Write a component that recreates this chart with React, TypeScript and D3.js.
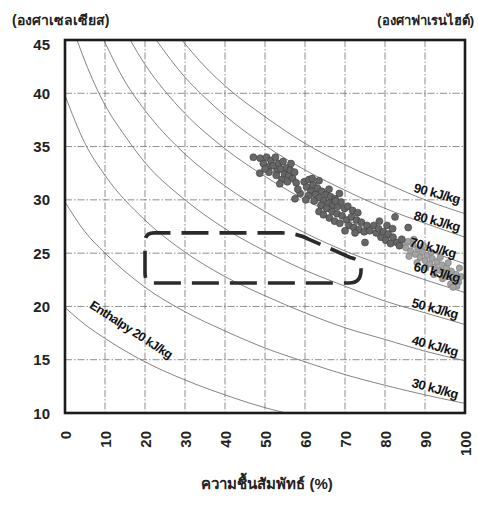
import React from 'react';
import * as d3 from 'd3';

const W = 478;
const H = 505;

// axis ticks
const rhTicks = [0, 10, 20, 30, 40, 50, 60, 70, 80, 90, 100];
const tTicks = [10, 15, 20, 25, 30, 35, 40, 45];

// enthalpy curves (RH %, temperature °C)
const h20RH = [0, 5, 10, 20, 30, 40, 50, 60];
const h20T = [19.9, 18.3, 17.0, 14.8, 13.1, 11.7, 10.5, 9.6];
const h30RH = [0, 5, 10, 20, 30, 40, 50, 60, 70, 80, 90, 100];
const h30T = [29.8, 27.0, 25.0, 21.8, 19.5, 17.7, 16.1, 14.8, 13.6, 12.6, 11.7, 10.9];
const h40RH = [0, 5, 10, 20, 30, 40, 50, 60, 70, 80, 90, 100];
const h40T = [39.8, 35.3, 32.3, 28.1, 25.1, 22.8, 21.0, 19.4, 18.0, 16.9, 15.8, 14.9];
const h50RH = [3, 5, 10, 15, 20, 30, 40, 50, 60, 70, 80, 90, 100];
const h50T = [45, 43.0, 38.9, 36.0, 33.5, 30.0, 27.3, 25.2, 23.4, 21.9, 20.5, 19.4, 18.3];
const h60RH = [9.7, 15, 20, 30, 40, 50, 60, 70, 80, 90, 100];
const h60T = [45, 41.1, 38.4, 34.3, 31.3, 28.9, 26.9, 25.2, 23.8, 22.5, 21.3];
const h70RH = [16.3, 20, 25, 30, 40, 50, 60, 70, 80, 90, 100];
const h70T = [45, 42.7, 40.2, 38.1, 34.8, 32.2, 30.0, 28.2, 26.6, 25.3, 24.0];
const h80RH = [22.8, 30, 35, 40, 50, 60, 70, 80, 90, 100];
const h80T = [45, 41.5, 39.6, 37.9, 35.1, 32.8, 30.9, 29.2, 27.8, 26.5];
const h90RH = [29.2, 35, 40, 50, 60, 70, 80, 90, 100];
const h90T = [45, 42.5, 40.7, 37.8, 35.3, 33.3, 31.6, 30.0, 28.7];

// curve labels
const curveLabels = ['90 kJ/kg', '80 kJ/kg', '70 kJ/kg', '60 kJ/kg', '50 kJ/kg', '40 kJ/kg', '30 kJ/kg'];
const labelRH = [93, 93, 92, 93, 92.5, 92.5, 92.5];
const labelT = [30.6, 28.0, 25.5, 23.2, 19.8, 16.3, 12.3];

// comfort zone outline (RH %, °C)
const zoneRH = [20, 54, 58, 61, 71.3, 74, 71, 21.5, 20];
const zoneT = [26.9, 26.9, 26.9, 26.3, 24.6, 23.4, 22.2, 22.2, 23.2];

// measured points (dark)
const darkRH = [
  47.1, 48.7, 48.8, 49.6, 50.4, 50.9, 51.5, 52.1, 52.6, 53.0, 53.4, 54.0, 54.5, 54.9, 55.4, 55.9, 56.3, 56.9, 57.4,
  51.0, 52.8, 54.2, 55.6, 57.8, 53.7, 50.0, 56.5, 57.5, 58.8, 58.2,
  59.8, 60.4, 61.0, 61.5, 62.0, 62.6, 63.1, 63.6, 64.2, 64.7, 65.3, 65.9, 66.4, 67.0, 67.5, 68.2, 60.9, 62.3, 64.0,
  66.0, 63.5, 61.8, 68.6, 60.2,
  63.5, 64.6, 65.4, 66.1, 66.8, 67.4, 68.0, 68.7, 69.3, 69.9, 70.4, 71.0, 71.6, 72.2, 72.9, 73.5, 74.1, 74.8, 75.5,
  76.2, 70.7, 71.9, 73.2, 69.0, 67.6, 75.0, 72.5, 70.0,
  77.2, 77.8, 78.4, 79.0, 79.6, 80.2, 80.8, 81.4, 82.0, 82.5, 83.0, 83.6, 84.2, 85.8, 78.6, 80.5, 81.9,
];
const darkT = [
  34.0, 32.5, 33.9, 33.4, 34.0, 33.1, 33.7, 33.2, 34.0, 32.7, 33.4, 32.9, 33.6, 32.4, 33.0, 32.3, 32.8, 32.0, 32.6,
  32.6, 32.3, 31.9, 31.7, 31.6, 31.5, 32.9, 33.4, 30.1, 30.6, 31.0,
  31.7, 31.2, 31.9, 30.8, 31.4, 30.5, 31.1, 30.2, 30.8, 29.9, 30.5, 29.7, 30.3, 29.5, 30.1, 29.4, 30.4, 29.9, 29.5,
  31.0, 31.8, 32.0, 30.6, 30.0,
  28.9, 28.6, 29.2, 28.3, 28.9, 28.0, 28.7, 27.8, 28.5, 29.2, 28.1, 27.6, 28.4, 27.4, 28.1, 27.2, 27.9, 27.0, 27.6,
  27.1, 29.4, 29.0, 28.8, 29.8, 29.9, 26.0, 26.9, 27.1,
  27.6, 26.9, 27.3, 26.5, 27.0, 26.2, 26.8, 25.9, 26.5, 28.4, 26.0, 25.7, 26.3, 27.4, 28.0, 27.6, 27.3,
];

// measured points (light cluster)
const lightRH = [
  84.5, 85.2, 85.8, 86.4, 87.0, 87.6, 88.2, 88.8, 89.4, 90.0, 90.6, 91.2, 91.8, 92.4, 93.0, 93.6, 94.2, 94.8, 95.4,
  96.0, 96.6, 97.2, 97.8, 98.4, 99.0, 86.0, 88.0, 90.2, 92.2, 94.4, 96.4, 98.0, 87.2, 89.6, 91.6, 93.8, 95.8, 98.6, 97.0,
];
const lightT = [
  26.0, 25.5, 26.1, 25.2, 25.8, 24.9, 25.4, 24.6, 25.1, 24.3, 24.8, 24.0, 24.5, 23.7, 24.2, 23.4, 23.9, 23.1, 23.6,
  22.8, 23.3, 22.5, 23.0, 22.3, 22.8, 24.7, 24.1, 23.6, 23.0, 22.6, 22.1, 21.9, 26.3, 25.7, 25.1, 24.6, 24.1, 23.6, 21.8,
];

const yTitle = '(องศาเซลเซียส)';
const yTitleRight = '(องศาฟาเรนไฮต์)';
const xTitle = 'ความชื้นสัมพัทธ์ (%)';
const enthalpyLabel = 'Enthalpy 20 kJ/kg';

const zip = (a: number[], b: number[]) => a.map((v, i) => [v, b[i]] as [number, number]);

export default function App() {
  const x = d3.scaleLinear().domain([0, 100]).range([65, 465]);
  const y = d3.scaleLinear().domain([10, 45]).range([413, 40]);
  const line = d3
    .line<[number, number]>()
    .x((d) => x(d[0]))
    .y((d) => y(d[1]))
    .curve(d3.curveMonotoneX);

  const curves = [
    zip(h20RH, h20T),
    zip(h30RH, h30T),
    zip(h40RH, h40T),
    zip(h50RH, h50T),
    zip(h60RH, h60T),
    zip(h70RH, h70T),
    zip(h80RH, h80T),
    zip(h90RH, h90T),
  ];

  const zp = zip(zoneRH, zoneT).map(([r, t]) => [x(r), y(t)]);
  const zonePath = d3.path();
  zonePath.moveTo(zp[0][0], zp[0][1] + 9);
  zonePath.quadraticCurveTo(zp[0][0], zp[0][1], zp[0][0] + 9, zp[0][1]);
  zonePath.lineTo(zp[1][0], zp[1][1]);
  zonePath.quadraticCurveTo(zp[2][0], zp[2][1], zp[3][0], zp[3][1]);
  zonePath.lineTo(zp[4][0], zp[4][1]);
  zonePath.quadraticCurveTo(zp[5][0], zp[4][1] + 2, zp[5][0], zp[5][1]);
  zonePath.quadraticCurveTo(zp[5][0], zp[6][1], zp[6][0], zp[6][1]);
  zonePath.lineTo(zp[7][0], zp[7][1]);
  zonePath.quadraticCurveTo(zp[8][0], zp[7][1], zp[8][0], zp[8][1]);
  zonePath.lineTo(zp[0][0], zp[0][1] + 9);

  const [x0, x1] = x.range();
  const [yb, yt] = y.range();
  const numFont = '"Liberation Sans", Arial, sans-serif';

  return (
    <svg
      width={W}
      height={H}
      style={{ position: 'fixed', left: 0, top: 0, background: '#fff' }}
      fontFamily={numFont}
    >
      <defs>
        <clipPath id="plotClip">
          <rect x={x0} y={yt} width={x1 - x0} height={yb - yt} />
        </clipPath>
      </defs>
      <rect x={0} y={0} width={W} height={H} fill="#fff" />

      {/* grid */}
      <g stroke="#6a6a6a" strokeWidth={0.75} strokeDasharray="7,2,1.5,2">
        {rhTicks.slice(1, -1).map((r) => (
          <line key={'v' + r} x1={x(r)} x2={x(r)} y1={yt} y2={yb} />
        ))}
        {tTicks.slice(1, -1).map((t) => (
          <line key={'h' + t} x1={x0} x2={x1} y1={y(t)} y2={y(t)} />
        ))}
      </g>

      {/* enthalpy curves */}
      <g clipPath="url(#plotClip)" fill="none" stroke="#6e6e6e" strokeWidth={0.85}>
        {curves.map((c, i) => (
          <path key={i} d={line(c) || ''} />
        ))}
      </g>

      {/* comfort zone */}
      <path
        d={zonePath.toString()}
        fill="none"
        stroke="#2b2b2b"
        strokeWidth={3.6}
        strokeDasharray="27,11"
        strokeDashoffset={-4}
      />

      {/* points */}
      <g clipPath="url(#plotClip)">
        {zip(lightRH, lightT).map(([r, t], i) => (
          <circle key={'l' + i} cx={x(r)} cy={y(t)} r={3.2} fill="#a3a3a3" stroke="#7c7c7c" strokeWidth={0.6} />
        ))}
        {zip(darkRH, darkT).map(([r, t], i) => (
          <circle key={'d' + i} cx={x(r)} cy={y(t)} r={3.5} fill="#676767" stroke="#3d3d3d" strokeWidth={0.6} />
        ))}
      </g>

      {/* frame */}
      <rect x={x0} y={yt} width={x1 - x0} height={yb - yt} fill="none" stroke="#1c1c1c" strokeWidth={2.6} />

      {/* curve labels */}
      {curveLabels.map((s, i) => (
        <text
          key={s}
          transform={`translate(${x(labelRH[i])},${y(labelT[i])}) rotate(15)`}
          textAnchor="middle"
          dominantBaseline="central"
          fontSize={13}
          fontWeight="bold"
          letterSpacing={-0.5}
          fill="#111"
        >
          {s}
        </text>
      ))}
      <text
        transform={`translate(${x(16.5)},${y(17.8)}) rotate(33)`}
        textAnchor="middle"
        dominantBaseline="central"
        fontSize={12.5}
        fontWeight="bold"
        letterSpacing={-0.6}
        fill="#111"
      >
        {enthalpyLabel}
      </text>

      {/* y tick labels */}
      {tTicks.map((t) => (
        <text
          key={'yt' + t}
          x={50}
          y={t === 45 ? y(t) + 4 : y(t)}
          textAnchor="end"
          dominantBaseline="central"
          fontSize={15}
          fontWeight="bold"
          fill="#222"
        >
          {t}
        </text>
      ))}

      {/* x tick labels */}
      {rhTicks.map((r) => (
        <text
          key={'xt' + r}
          transform={`translate(${x(r)},${431}) rotate(-90)`}
          textAnchor="end"
          dominantBaseline="central"
          fontSize={15}
          fontWeight="bold"
          fill="#222"
        >
          {r}
        </text>
      ))}

      {/* titles */}
      <text x={12} y={25} fontSize={14} fontWeight="bold" fill="#222">
        {yTitle}
      </text>
      <text x={474} y={25} textAnchor="end" fontSize={13} fontWeight="bold" fill="#222">
        {yTitleRight}
      </text>
      <text x={x(50.5)} y={489} textAnchor="middle" fontSize={15} fontWeight="bold" fill="#222">
        {xTitle}
      </text>
    </svg>
  );
}
